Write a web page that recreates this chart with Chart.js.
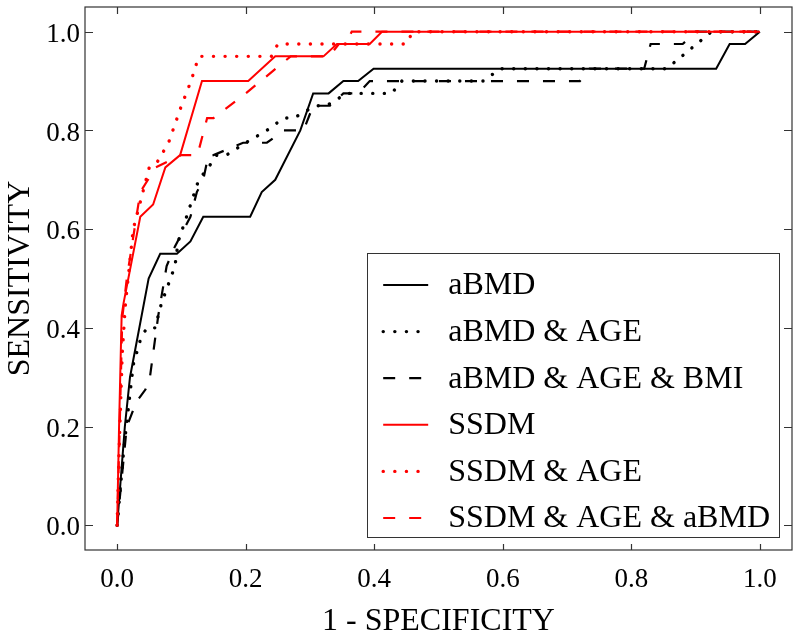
<!DOCTYPE html>
<html>
<head>
<meta charset="utf-8">
<script src="https://cdn.jsdelivr.net/npm/chart.js@4.4.0/dist/chart.umd.min.js"></script>
<style>
  body { margin: 0; background: #fff; }
  canvas { display: block; }
</style>
</head>
<body>
<canvas id="roc" width="800" height="641"></canvas>
<script>
// ROC curves, values
const xTicks = [0, 0.2, 0.4, 0.6, 0.8, 1.0]
const yTicks = [0, 0.2, 0.4, 0.6, 0.8, 1.0]

const abmdX = [0, 0.012, 0.02, 0.049, 0.067, 0.093, 0.114, 0.134, 0.207, 0.225, 0.246, 0.285, 0.305, 0.329, 0.352, 0.375, 0.399, 0.932, 0.953, 0.977, 1]
const abmdY = [0, 0.2, 0.3, 0.5, 0.55, 0.55, 0.575, 0.625, 0.625, 0.675, 0.7, 0.8, 0.875, 0.875, 0.9, 0.9, 0.925, 0.925, 0.975, 0.975, 1]

const abmdAgeX = [0, 0.01, 0.025, 0.036, 0.046, 0.059, 0.069, 0.09, 0.095, 0.108, 0.127, 0.142, 0.155, 0.17, 0.2, 0.233, 0.259, 0.275, 0.308, 0.326, 0.357, 0.427, 0.443, 0.57, 0.596, 0.855, 0.925, 1]
const abmdAgeY = [0, 0.15, 0.325, 0.375, 0.4, 0.4, 0.45, 0.525, 0.575, 0.625, 0.7, 0.725, 0.75, 0.75, 0.775, 0.8, 0.825, 0.825, 0.85, 0.85, 0.875, 0.875, 0.9, 0.9, 0.925, 0.925, 1, 1]

const abmdAgeBmiX = [0, 0.015, 0.03, 0.044, 0.051, 0.064, 0.077, 0.085, 0.09, 0.114, 0.124, 0.134, 0.142, 0.15, 0.196, 0.233, 0.259, 0.29, 0.305, 0.331, 0.352, 0.375, 0.393, 0.72, 0.735, 0.82, 0.83, 0.88, 0.9, 1]
const abmdAgeBmiY = [0, 0.2, 0.25, 0.275, 0.3, 0.425, 0.525, 0.55, 0.565, 0.625, 0.675, 0.7, 0.75, 0.75, 0.775, 0.775, 0.8, 0.8, 0.85, 0.85, 0.875, 0.875, 0.9, 0.9, 0.925, 0.925, 0.975, 0.975, 1, 1]

const ssdmX = [0, 0.003, 0.007, 0.01, 0.036, 0.056, 0.075, 0.098, 0.132, 0.204, 0.246, 0.321, 0.342, 0.393, 0.412, 1]
const ssdmY = [0, 0.2, 0.425, 0.45, 0.625, 0.65, 0.725, 0.75, 0.9, 0.9, 0.95, 0.95, 0.975, 0.975, 1, 1]

const ssdmAgeX = [0, 0.003, 0.008, 0.013, 0.025, 0.035, 0.05, 0.062, 0.08, 0.1, 0.115, 0.127, 0.24, 0.25, 0.45, 0.46, 1]
const ssdmAgeY = [0, 0.15, 0.35, 0.45, 0.6, 0.65, 0.725, 0.735, 0.775, 0.85, 0.9, 0.95, 0.95, 0.975, 0.975, 1, 1]

const ssdmAgeAbmdX = [0, 0.004, 0.008, 0.015, 0.03, 0.036, 0.06, 0.1, 0.125, 0.14, 0.15, 0.2, 0.27, 0.33, 0.345, 0.355, 0.365, 1]
const ssdmAgeAbmdY = [0, 0.2, 0.42, 0.5, 0.625, 0.675, 0.725, 0.75, 0.75, 0.825, 0.825, 0.875, 0.95, 0.95, 0.975, 0.975, 1, 1]

const FONT = '"Liberation Serif", "Times New Roman", serif'
const frameColor = '#333'

function pts(xs, ys) {
    return xs.map((x, i) => ({ x: x, y: ys[i] }))
}

const solid = { borderDash: [], borderWidth: 2, borderCapStyle: 'butt' }
const dotted = { borderDash: [0.1, 11.5], borderWidth: 3.4, borderCapStyle: 'round' }
const dashed = { borderDash: [12, 14], borderWidth: 2.2, borderCapStyle: 'butt' }

function series(label, xs, ys, color, style, order) {
    return Object.assign({
        label: label,
        data: pts(xs, ys),
        borderColor: color,
        backgroundColor: color,
        pointRadius: 0,
        fill: false,
        tension: 0,
        showLine: true,
        order: order
    }, style)
}

// inward ticks on all four sides plus the box
const frame = {
    id: 'frame',
    afterDraw(chart) {
        const ctx = chart.ctx
        const a = chart.chartArea
        const xs = chart.scales.x, ys = chart.scales.y
        ctx.save()
        ctx.strokeStyle = frameColor
        ctx.lineWidth = 1.2
        ctx.strokeRect(a.left, a.top, a.right - a.left, a.bottom - a.top)
        ctx.beginPath()
        xTicks.forEach(v => {
            const px = Math.round(xs.getPixelForValue(v)) + 0.5
            ctx.moveTo(px, a.bottom); ctx.lineTo(px, a.bottom - 6)
            ctx.moveTo(px, a.top); ctx.lineTo(px, a.top + 7)
        })
        yTicks.forEach(v => {
            const py = Math.round(ys.getPixelForValue(v)) + 0.5
            ctx.moveTo(a.left, py); ctx.lineTo(a.left + 8, py)
            ctx.moveTo(a.right, py); ctx.lineTo(a.right - 8, py)
        })
        ctx.stroke()
        ctx.restore()
    }
}

// legend box in the lower right corner of the plot
const boxLegend = {
    id: 'boxLegend',
    afterDatasetsDraw(chart) {
        const ctx = chart.ctx
        const a = chart.chartArea
        const sets = chart.data.datasets
        ctx.save()
        ctx.font = '32px ' + FONT
        let w = 0
        sets.forEach(d => { w = Math.max(w, ctx.measureText(d.label).width) })
        const width = 81 + w + 9
        const height = 284
        const right = a.right - 13, bottom = a.bottom - 13
        const left = right - width, top = bottom - height
        ctx.fillStyle = '#fff'
        ctx.fillRect(left, top, width, height)
        ctx.strokeStyle = frameColor
        ctx.lineWidth = 1
        ctx.strokeRect(Math.round(left) + 0.5, top + 0.5, Math.round(width), height)
        sets.forEach((d, i) => {
            const y = top + 32 + i * 46.6
            ctx.beginPath()
            ctx.setLineDash(d.borderDash)
            ctx.lineCap = d.borderCapStyle
            ctx.lineWidth = d.borderWidth
            ctx.strokeStyle = d.borderColor
            ctx.moveTo(left + 16, y)
            ctx.lineTo(left + 61, y)
            ctx.stroke()
            ctx.setLineDash([])
            ctx.fillStyle = '#000'
            ctx.textBaseline = 'middle'
            ctx.textAlign = 'left'
            ctx.fillText(d.label, left + 81, y + 1)
        })
        ctx.restore()
    }
}

const ctx = document.getElementById('roc').getContext('2d')

new Chart(ctx, {
    type: 'scatter',
    data: {
        datasets: [
            series('aBMD', abmdX, abmdY, '#000', solid, 1),
            series('aBMD & AGE', abmdAgeX, abmdAgeY, '#000', dotted, 1),
            series('aBMD & AGE & BMI', abmdAgeBmiX, abmdAgeBmiY, '#000', dashed, 1),
            series('SSDM', ssdmX, ssdmY, '#f00', solid, 0),
            series('SSDM & AGE', ssdmAgeX, ssdmAgeY, '#f00', dotted, 0),
            series('SSDM & AGE & aBMD', ssdmAgeAbmdX, ssdmAgeAbmdY, '#f00', dashed, 0)
        ]
    },
    options: {
        responsive: false,
        animation: false,
        devicePixelRatio: 1,
        layout: { padding: { left: 0, right: 8, top: 7, bottom: 0 } },
        plugins: {
            legend: { display: false },
            tooltip: { enabled: false }
        },
        scales: {
            x: {
                type: 'linear',
                min: -0.05,
                max: 1.05,
                afterBuildTicks: s => { s.ticks = xTicks.map(v => ({ value: v })) },
                afterFit: s => { s.height = 91; s.paddingLeft = 0; s.paddingRight = 0 },
                grid: { display: false, drawTicks: false },
                border: { display: false },
                ticks: {
                    padding: 14,
                    color: '#000',
                    font: { family: FONT, size: 27 },
                    callback: v => v.toFixed(1)
                },
                title: {
                    display: true,
                    text: '1 - SPECIFICITY',
                    color: '#000',
                    font: { family: FONT, size: 32 },
                    padding: { bottom: 0, top: 0 }
                }
            },
            y: {
                type: 'linear',
                min: -0.05,
                max: 1.05,
                afterBuildTicks: s => { s.ticks = yTicks.map(v => ({ value: v })) },
                afterFit: s => { s.width = 85; s.paddingTop = 0; s.paddingBottom = 0 },
                grid: { display: false, drawTicks: false },
                border: { display: false },
                ticks: {
                    padding: 5,
                    labelOffset: 3,
                    color: '#000',
                    font: { family: FONT, size: 27 },
                    callback: v => v.toFixed(1)
                },
                title: {
                    display: true,
                    text: 'SENSITIVITY',
                    color: '#000',
                    font: { family: FONT, size: 32 },
                    padding: { top: 1, bottom: 0 }
                }
            }
        }
    },
    plugins: [boxLegend, frame]
})
</script>
</body>
</html>
